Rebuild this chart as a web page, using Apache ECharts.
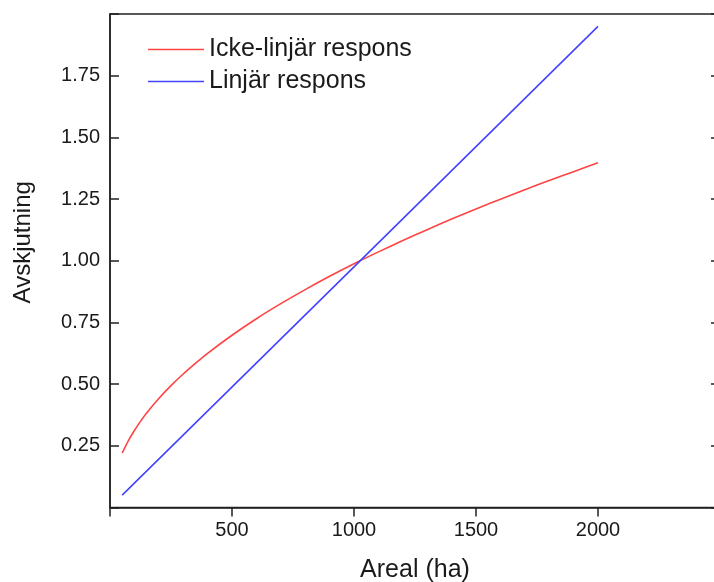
<!DOCTYPE html>
<html>
<head>
<meta charset="utf-8">
<script src="https://cdn.jsdelivr.net/npm/echarts@6/dist/echarts.min.js"></script>
<style>html,body{margin:0;padding:0;background:#fff;overflow:hidden}#chart{width:732px;height:582px}</style>
</head>
<body>
<div id="chart"></div>
<script>
// areal (ha) och avskjutning
const arealNonLin = [50, 75, 100, 125, 150, 200, 250, 300, 350, 400, 500, 600, 700, 800, 900, 1000, 1100, 1200, 1300, 1400, 1500, 1600, 1700, 1800, 1900, 2000]
const ickeLinjar = [0.221, 0.270, 0.312, 0.349, 0.383, 0.442, 0.494, 0.541, 0.584, 0.625, 0.698, 0.765, 0.826, 0.883, 0.937, 0.988, 1.036, 1.082, 1.126, 1.169, 1.210, 1.249, 1.288, 1.325, 1.361, 1.397]
const arealLin = [50, 1000, 2000]
const linjar = [0.05, 0.975, 1.95]
const xTicks = [500, 1000, 1500, 2000]
const yTicks = [0.25, 0.5, 0.75, 1.0, 1.25, 1.5, 1.75]

const font = 'Liberation Sans, Arial, sans-serif'
const ink = '#1a1a1a'
const chart = echarts.init(document.getElementById('chart'))

const zip = (xs, ys) => xs.map((x, i) => [x, ys[i]])

chart.setOption({
  animation: false,
  grid: { left: 110, right: 12, top: 14, bottom: 74.5, outerBoundsMode: 'none',
    show: true, borderColor: '#222', borderWidth: 1.5 },
  legend: {
    orient: 'vertical', left: 143, top: 32, itemWidth: 56, itemHeight: 1.6, itemGap: 7,
    icon: 'rect',
    textStyle: { fontFamily: font, fontSize: 25, lineHeight: 25, color: ink },
    data: ['Icke-linjär respons', 'Linjär respons']
  },
  xAxis: {
    type: 'value', min: 0, max: 2500, interval: 500,
    name: 'Areal (ha)', nameLocation: 'middle', nameGap: 50,
    nameTextStyle: { fontFamily: font, fontSize: 25, color: ink },
    axisLine: { lineStyle: { color: '#222', width: 1.5 } },
    axisTick: { length: 9, lineStyle: { color: '#222', width: 1.5 } },
    axisLabel: { fontFamily: font, fontSize: 20, color: ink, margin: 13,
      formatter: v => xTicks.includes(v) ? String(v) : '' },
    splitLine: { show: false }
  },
  yAxis: [{
    type: 'value', min: 0, max: 2, interval: 0.25,
    name: 'Avskjutning', nameLocation: 'middle', nameGap: 75,
    nameTextStyle: { fontFamily: font, fontSize: 24, color: ink, padding: [0, 0, 0, 37] },
    axisLine: { show: true, lineStyle: { color: '#222', width: 1.5 } },
    axisTick: { show: true, inside: true, length: 9, lineStyle: { color: '#222', width: 1.5 } },
    axisLabel: { fontFamily: font, fontSize: 20, color: ink, margin: 10,
      formatter: v => yTicks.some(t => Math.abs(t - v) < 1e-6) ? v.toFixed(2) : '' },
    splitLine: { show: false }
  }, {
    type: 'value', min: 0, max: 2, interval: 0.25, position: 'right',
    axisLine: { show: true, lineStyle: { color: '#222', width: 1.5 } },
    axisTick: { show: true, inside: true, length: 9, lineStyle: { color: '#222', width: 1.5 } },
    axisLabel: { show: false },
    splitLine: { show: false }
  }],
  series: [
    { name: 'Icke-linjär respons', type: 'line', data: zip(arealNonLin, ickeLinjar), showSymbol: false,
      smooth: 0.25,
      lineStyle: { color: '#ff4444', width: 1.6 }, itemStyle: { color: '#ff4444' } },
    { name: 'Linjär respons', type: 'line', data: zip(arealLin, linjar), showSymbol: false,
      lineStyle: { color: '#4444ff', width: 1.6 }, itemStyle: { color: '#4444ff' } }
  ]
})
</script>
</body>
</html>
